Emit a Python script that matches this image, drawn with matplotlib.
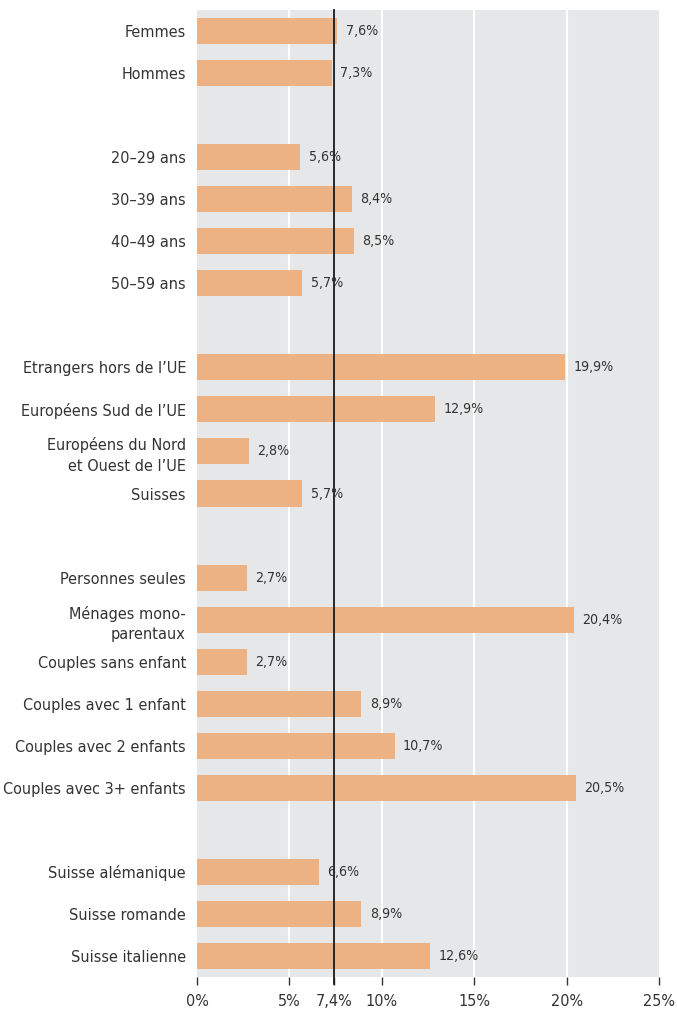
import matplotlib
matplotlib.use("Agg")
import matplotlib.pyplot as plt
from matplotlib import font_manager

# pick a condensed face if one is installed, else plain Liberation Sans
fam, stretch, scale = "Liberation Sans", "normal", 0.86
for f in font_manager.fontManager.ttflist:
    st = str(f.stretch)
    if f.name in ("Liberation Sans Narrow", "Roboto Condensed", "Open Sans Condensed"):
        fam, stretch, scale = f.name, "normal", 0.97
        break
    if f.name in ("DejaVu Sans", "Noto Sans", "Open Sans", "Roboto") and st in ("condensed", "semi-condensed", "75", "87.5"):
        fam, stretch, scale = f.name, "condensed", 0.892
        break
plt.rcParams["font.family"] = [fam, "DejaVu Sans"]
plt.rcParams["font.stretch"] = stretch

# data (None = spacer row)
labels = ["Femmes", "Hommes", None,
          "20\u201329 ans", "30\u201339 ans", "40\u201349 ans", "50\u201359 ans", None,
          "Etrangers hors de l\u2019UE", "Europ\u00e9ens Sud de l\u2019UE",
          "Europ\u00e9ens du Nord\net Ouest de l\u2019UE", "Suisses", None,
          "Personnes seules", "M\u00e9nages mono-\nparentaux", "Couples sans enfant",
          "Couples avec 1 enfant", "Couples avec 2 enfants", "Couples avec 3+ enfants", None,
          "Suisse al\u00e9manique", "Suisse romande", "Suisse italienne"]
values = [7.6, 7.3, None,
          5.6, 8.4, 8.5, 5.7, None,
          19.9, 12.9, 2.8, 5.7, None,
          2.7, 20.4, 2.7, 8.9, 10.7, 20.5, None,
          6.6, 8.9, 12.6]
average = 7.4
xticks = [0, 5, 7.4, 10, 15, 20, 25]
xticklabels = ["0%", "5%", "7,4%", "10%", "15%", "20%", "25%"]

text_col = "#333333"
bar_col = "#edae7c"

fig = plt.figure(figsize=(6.77, 10.11), dpi=100)
ax = fig.add_axes([197/677, 1-977/1011, (659-197)/677, (977-10)/1011])
ax.set_facecolor("#e6e7e8")

for g in [5, 10, 15, 20]:
    ax.axvline(g, color="white", lw=1.5, zorder=1)

ys = [i for i, v in enumerate(values) if v is not None]
vs = [v for v in values if v is not None]
ax.barh(ys, vs, height=0.62, color=bar_col, alpha=0.93, zorder=2)
ax.axvline(average, color="#1a1a1a", lw=1.3, zorder=3, ymin=-0.007, clip_on=False)

for y, v in zip(ys, vs):
    ax.text(v + 0.45, y, f"{v:.1f}%".replace(".", ","), va="center", ha="left",
            fontsize=10.5 * scale / 0.92, color=text_col, zorder=4)

ax.set_yticks(ys)
ax.set_yticklabels([l for l in labels if l is not None], fontsize=13 * scale,
                   color=text_col, linespacing=1.45)
ax.tick_params(axis="y", length=0, pad=8)
ax.set_ylim(len(values) - 0.5, -0.5)
ax.set_xlim(0, 25)
ax.set_xticks(xticks)
ax.set_xticklabels(xticklabels, fontsize=13 * scale, color=text_col)
ax.tick_params(axis="x", length=6, width=1, color="#333333", pad=6)
for s in ax.spines.values():
    s.set_visible(False)

fig.savefig("out.png", dpi=100)
